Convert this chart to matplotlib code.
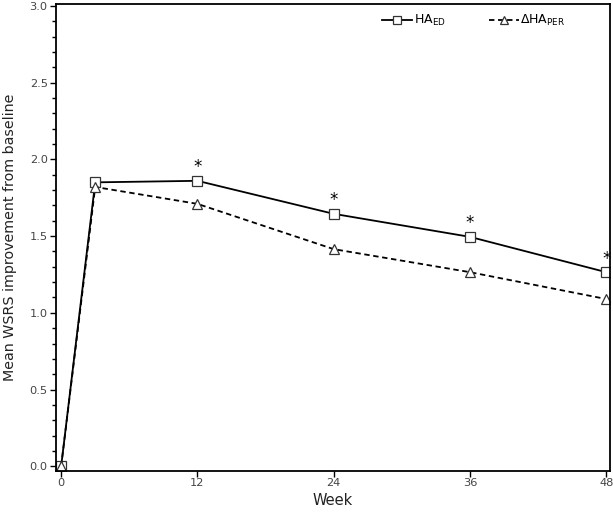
import matplotlib.pyplot as plt
from matplotlib.ticker import MultipleLocator
from matplotlib.legend_handler import HandlerLine2D

weeks = [0, 3, 12, 24, 36, 48]
ha_ed = [0.0, 1.85, 1.86, 1.645, 1.495, 1.265]
ha_per = [0.0, 1.82, 1.71, 1.415, 1.265, 1.09]
sig_weeks = [12, 24, 36, 48]

plt.rcParams['font.family'] = ['DejaVu Sans']


class EndMarkerHandler(HandlerLine2D):
    # put the legend marker at the right end of the line sample
    def get_xdata(self, legend, xdescent, ydescent, width, height, fontsize):
        xdata = [-xdescent, -xdescent + width]
        return xdata, [-xdescent + width]


fig = plt.figure(figsize=(6.13, 5.14), dpi=100)
ax = fig.add_axes([0.0914, 0.0837, 0.904, 0.908])

l1, = ax.plot(weeks, ha_ed, color='black', linewidth=1.3, marker='s', markersize=7,
              markerfacecolor='white', markeredgecolor='#333333', markeredgewidth=0.9,
              label=r'HA$_{\mathregular{ED}}$')
l2, = ax.plot(weeks, ha_per, color='black', linewidth=1.3, linestyle=(0, (3, 2)), marker='^',
              markersize=7, markerfacecolor='white', markeredgecolor='#333333',
              markeredgewidth=0.9, label=r'ΔHA$_{\mathregular{PER}}$')

for w in sig_weeks:
    y = ha_ed[weeks.index(w)]
    ax.text(w, y + 0.03, '*', ha='center', va='bottom', fontsize=12)

ax.set_xlim(-0.45, 48.35)
ax.set_ylim(-0.03, 3.01)
ax.set_xticks([0, 12, 24, 36, 48])
ax.yaxis.set_major_locator(MultipleLocator(0.5))
ax.yaxis.set_minor_locator(MultipleLocator(0.1))
ax.yaxis.set_major_formatter(plt.FormatStrFormatter('%.1f'))
ax.tick_params(direction='out', length=4, width=1, labelsize=8.2, labelcolor='#444444', pad=2)
ax.tick_params(axis='x', pad=1)
ax.tick_params(which='minor', direction='out', length=3, width=1)
for s in ax.spines.values():
    s.set_linewidth(1.3)

ax.set_xlabel('Week', fontsize=10.5, labelpad=4, color='#222222')
ax.set_ylabel('Mean WSRS improvement from baseline', fontsize=10.3, labelpad=9, color='#222222')

leg = ax.legend(handles=[l1, l2], loc='upper right', ncol=2, frameon=False, fontsize=9,
                handlelength=2.4, handletextpad=0.1, columnspacing=3.5,
                bbox_to_anchor=(0.94, 1.005), markerscale=0.8,
                handler_map={l1: EndMarkerHandler(numpoints=1),
                             l2: EndMarkerHandler(numpoints=1)})

fig.savefig('out.png', dpi=100)
